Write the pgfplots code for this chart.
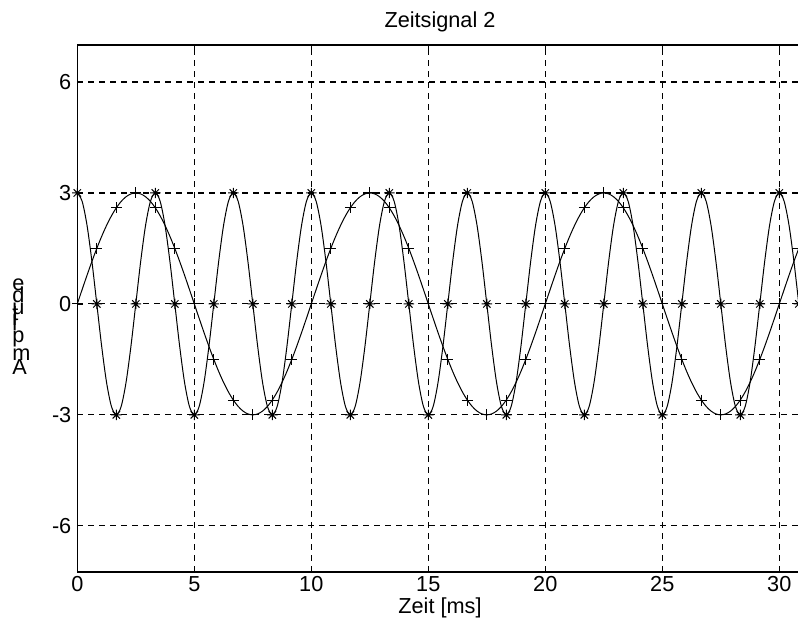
\documentclass[border=0pt]{standalone}
\usepackage{fontspec}
\setmainfont{Liberation Sans}
\usepackage{pgfplots}
\pgfplotsset{compat=1.18}
\usepackage{pgfplotstable}

% t [ms], fast = 300 Hz cosine, slow = 100 Hz sine (amplitude 3)
\pgfplotstableread{
t fast slow
0 3 0
0.2083 2.7716 0.3916
0.4167 2.1213 0.7765
0.625 1.1481 1.1481
0.8333 0 1.5
1.0417 -1.1481 1.8263
1.25 -2.1213 2.1213
1.4583 -2.7716 2.3801
1.6667 -3 2.5981
1.875 -2.7716 2.7716
2.0833 -2.1213 2.8978
2.2917 -1.1481 2.9743
2.5 0 3
2.7083 1.1481 2.9743
2.9167 2.1213 2.8978
3.125 2.7716 2.7716
3.3333 3 2.5981
3.5417 2.7716 2.3801
3.75 2.1213 2.1213
3.9583 1.1481 1.8263
4.1667 0 1.5
4.375 -1.1481 1.1481
4.5833 -2.1213 0.7765
4.7917 -2.7716 0.3916
5 -3 0
5.2083 -2.7716 -0.3916
5.4167 -2.1213 -0.7765
5.625 -1.1481 -1.1481
5.8333 0 -1.5
6.0417 1.1481 -1.8263
6.25 2.1213 -2.1213
6.4583 2.7716 -2.3801
6.6667 3 -2.5981
6.875 2.7716 -2.7716
7.0833 2.1213 -2.8978
7.2917 1.1481 -2.9743
7.5 0 -3
7.7083 -1.1481 -2.9743
7.9167 -2.1213 -2.8978
8.125 -2.7716 -2.7716
8.3333 -3 -2.5981
8.5417 -2.7716 -2.3801
8.75 -2.1213 -2.1213
8.9583 -1.1481 -1.8263
9.1667 0 -1.5
9.375 1.1481 -1.1481
9.5833 2.1213 -0.7765
9.7917 2.7716 -0.3916
10 3 0
10.2083 2.7716 0.3916
10.4167 2.1213 0.7765
10.625 1.1481 1.1481
10.8333 0 1.5
11.0417 -1.1481 1.8263
11.25 -2.1213 2.1213
11.4583 -2.7716 2.3801
11.6667 -3 2.5981
11.875 -2.7716 2.7716
12.0833 -2.1213 2.8978
12.2917 -1.1481 2.9743
12.5 0 3
12.7083 1.1481 2.9743
12.9167 2.1213 2.8978
13.125 2.7716 2.7716
13.3333 3 2.5981
13.5417 2.7716 2.3801
13.75 2.1213 2.1213
13.9583 1.1481 1.8263
14.1667 0 1.5
14.375 -1.1481 1.1481
14.5833 -2.1213 0.7765
14.7917 -2.7716 0.3916
15 -3 0
15.2083 -2.7716 -0.3916
15.4167 -2.1213 -0.7765
15.625 -1.1481 -1.1481
15.8333 0 -1.5
16.0417 1.1481 -1.8263
16.25 2.1213 -2.1213
16.4583 2.7716 -2.3801
16.6667 3 -2.5981
16.875 2.7716 -2.7716
17.0833 2.1213 -2.8978
17.2917 1.1481 -2.9743
17.5 0 -3
17.7083 -1.1481 -2.9743
17.9167 -2.1213 -2.8978
18.125 -2.7716 -2.7716
18.3333 -3 -2.5981
18.5417 -2.7716 -2.3801
18.75 -2.1213 -2.1213
18.9583 -1.1481 -1.8263
19.1667 0 -1.5
19.375 1.1481 -1.1481
19.5833 2.1213 -0.7765
19.7917 2.7716 -0.3916
20 3 0
20.2083 2.7716 0.3916
20.4167 2.1213 0.7765
20.625 1.1481 1.1481
20.8333 0 1.5
21.0417 -1.1481 1.8263
21.25 -2.1213 2.1213
21.4583 -2.7716 2.3801
21.6667 -3 2.5981
21.875 -2.7716 2.7716
22.0833 -2.1213 2.8978
22.2917 -1.1481 2.9743
22.5 0 3
22.7083 1.1481 2.9743
22.9167 2.1213 2.8978
23.125 2.7716 2.7716
23.3333 3 2.5981
23.5417 2.7716 2.3801
23.75 2.1213 2.1213
23.9583 1.1481 1.8263
24.1667 0 1.5
24.375 -1.1481 1.1481
24.5833 -2.1213 0.7765
24.7917 -2.7716 0.3916
25 -3 0
25.2083 -2.7716 -0.3916
25.4167 -2.1213 -0.7765
25.625 -1.1481 -1.1481
25.8333 0 -1.5
26.0417 1.1481 -1.8263
26.25 2.1213 -2.1213
26.4583 2.7716 -2.3801
26.6667 3 -2.5981
26.875 2.7716 -2.7716
27.0833 2.1213 -2.8978
27.2917 1.1481 -2.9743
27.5 0 -3
27.7083 -1.1481 -2.9743
27.9167 -2.1213 -2.8978
28.125 -2.7716 -2.7716
28.3333 -3 -2.5981
28.5417 -2.7716 -2.3801
28.75 -2.1213 -2.1213
28.9583 -1.1481 -1.8263
29.1667 0 -1.5
29.375 1.1481 -1.1481
29.5833 2.1213 -0.7765
29.7917 2.7716 -0.3916
30 3 0
30.2083 2.7716 0.3916
30.4167 2.1213 0.7765
30.625 1.1481 1.1481
30.8333 0 1.5
31.0417 -1.1481 1.8263
}\zeitsignal

% matlab style '*' marker: + and x on top of each other
\pgfdeclareplotmark{mstar}{%
  \pgfpathmoveto{\pgfqpoint{-\pgfplotmarksize}{0pt}}%
  \pgfpathlineto{\pgfqpoint{\pgfplotmarksize}{0pt}}%
  \pgfpathmoveto{\pgfqpoint{0pt}{-\pgfplotmarksize}}%
  \pgfpathlineto{\pgfqpoint{0pt}{\pgfplotmarksize}}%
  \pgfpathmoveto{\pgfqpoint{-.7071\pgfplotmarksize}{-.7071\pgfplotmarksize}}%
  \pgfpathlineto{\pgfqpoint{.7071\pgfplotmarksize}{.7071\pgfplotmarksize}}%
  \pgfpathmoveto{\pgfqpoint{-.7071\pgfplotmarksize}{.7071\pgfplotmarksize}}%
  \pgfpathlineto{\pgfqpoint{.7071\pgfplotmarksize}{-.7071\pgfplotmarksize}}%
  \pgfusepathqstroke}

\begin{document}
\fontsize{10.85}{13}\selectfont
\begin{tikzpicture}
\begin{axis}[
    scale only axis,
    width=362.7pt, height=263.35pt,
    xmin=0, xmax=31,
    ymin=-7.24, ymax=7,
    xtick={0,5,...,30},
    ytick={-6,-3,0,3,6},
    grid=major,
    major grid style={black, line width=0.55pt, dash pattern=on 3pt off 2.5pt},
    axis line style={line width=0.8pt},
    tick align=inside,
    major tick length=3pt,
    tick style={black, line width=0.6pt},
    /pgf/number format/assume math mode=true,
    xticklabel style={anchor=north, inner sep=0pt, yshift=-2.2pt},
    yticklabel style={anchor=east, inner sep=0pt, xshift=-2.8pt},
    title={Zeitsignal 2},
    title style={at={(0.5,1)}, anchor=base, inner sep=0pt, yshift=2.7pt},
    xlabel={Zeit [ms]},
    xlabel style={at={(0.5,0)}, anchor=base, inner sep=0pt, yshift=-20.65pt},
    every axis plot/.append style={black, line width=0.5pt, smooth, mark repeat=4, mark options={solid}},
]
\coordinate (O) at (rel axis cs:0,0);
\coordinate (T) at (rel axis cs:0,1);
\addplot[mark=mstar, mark size=2.6pt] table[x=t, y=fast] {\zeitsignal};
\addplot[mark=+, mark size=2.75pt] table[x=t, y=slow] {\zeitsignal};
\end{axis}
% y label as matlab drew it: upright letters stacked by their widths
\foreach \c/\h in {A/0, m/7.24, p/16.28, l/22.31, i/24.72, t/27.13, u/30.15, d/36.18, e/42.21}
  \node[anchor=base west, inner sep=0pt] at ([xshift=-32.65pt, yshift={98.5pt+\h pt}]O) {\c};
\pgfresetboundingbox
\path[use as bounding box] ([shift={(-38.65pt,-28.15pt)}]O) rectangle ([shift={(360.35pt,22.5pt)}]T);
\end{tikzpicture}
\end{document}
